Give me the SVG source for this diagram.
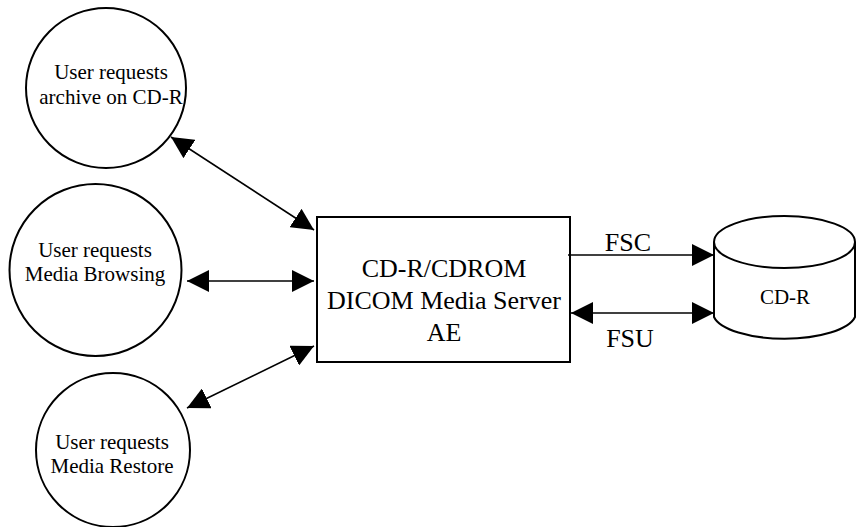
<svg xmlns="http://www.w3.org/2000/svg" width="857" height="527" viewBox="0 0 857 527">
<style>
.shape{fill:#fff;stroke:#000;stroke-width:2}
.t{font-family:"Liberation Serif","Times New Roman",serif;fill:#000;text-anchor:middle}
.s21{font-size:21px}
.s26{font-size:26px}
.ln{stroke:#000;stroke-width:1.6;fill:none}
</style>
<defs>
<marker id="ah" viewBox="0 0 22 22" refX="22" refY="11" markerWidth="22" markerHeight="22" markerUnits="userSpaceOnUse" orient="auto-start-reverse">
<path d="M0,0 L22,11 L0,22 z" fill="#000"/>
</marker>
</defs>
<g id="user-archive">
<circle class="shape" cx="106" cy="88" r="80"/>
<text class="t s21" x="111" y="79">User requests</text>
<text class="t s21" x="111" y="104">archive on CD-R</text>
</g>
<g id="user-browsing">
<circle class="shape" cx="95.5" cy="270" r="86"/>
<text class="t s21" x="95" y="257">User requests</text>
<text class="t s21" x="95" y="281">Media Browsing</text>
</g>
<g id="user-restore">
<circle class="shape" cx="113" cy="450" r="77"/>
<text class="t s21" x="112" y="449">User requests</text>
<text class="t s21" x="112" y="473">Media Restore</text>
</g>
<g id="media-server">
<rect class="shape" x="317" y="217" width="253" height="145"/>
<text class="t s26" x="444" y="277">CD-R/CDROM</text>
<text class="t s26" x="444" y="309">DICOM Media Server</text>
<text class="t s26" x="444" y="341">AE</text>
</g>
<g id="cdr">
<path class="shape" d="M714,242 L714,317 A71.5,26 0 0 0 855,317 L855,242"/>
<ellipse class="shape" cx="784.5" cy="242" rx="70.5" ry="26"/>
<text class="t s21" x="785" y="304">CD-R</text>
</g>
<g id="connectors">
<line class="ln" x1="171" y1="137" x2="314" y2="230" marker-start="url(#ah)" marker-end="url(#ah)"/>
<line class="ln" x1="187" y1="281" x2="314" y2="281" marker-start="url(#ah)" marker-end="url(#ah)"/>
<line class="ln" x1="187" y1="408" x2="314" y2="346" marker-start="url(#ah)" marker-end="url(#ah)"/>
<line class="ln" x1="568" y1="255" x2="714" y2="255" marker-end="url(#ah)"/>
<line class="ln" x1="571" y1="313" x2="714" y2="313" marker-start="url(#ah)" marker-end="url(#ah)"/>
<text class="t s26" x="628" y="251">FSC</text>
<text class="t s26" x="630" y="347">FSU</text>
</g>
</svg>
